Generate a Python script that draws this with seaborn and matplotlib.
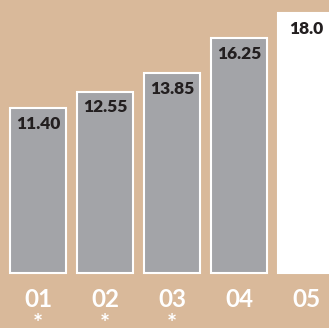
import matplotlib
matplotlib.use("Agg")
import matplotlib.pyplot as plt
import seaborn as sns
import pandas as pd

categories = ["01", "02", "03", "04", "05"]
values = [11.40, 12.55, 13.85, 16.25, 18.0]
value_labels = ["11.40", "12.55", "13.85", "16.25", "18.0"]
notes = ["*", "*", "*", "", ""]
bar_colors = ["#a3a4a8", "#a3a4a8", "#a3a4a8", "#a3a4a8", "#ffffff"]

sns.set_theme(style="white")
plt.rcParams["font.family"] = ["Lato", "DejaVu Sans"]

df = pd.DataFrame({"cat": categories, "val": values})

fig = plt.figure(figsize=(3.29, 3.28), dpi=100)
bg = "#d9b99a"
fig.patch.set_facecolor(bg)
ax = fig.add_axes([0, 0, 1, 1])
ax.set_facecolor(bg)

sns.barplot(data=df, x="cat", y="val", hue="cat", palette=bar_colors,
            legend=False, width=0.836, edgecolor="white", linewidth=1.5,
            saturation=1, ax=ax)

ax.set_xlim(-0.567, 4.343)
ax.set_ylim(-3.80, 18.88)
ax.axis("off")

for i, (v, lab) in enumerate(zip(values, value_labels)):
    ax.text(i, v - 0.55, lab, ha="center", va="top", fontsize=12.5,
            fontweight="heavy", color="#231f20")

for i, (c, n) in enumerate(zip(categories, notes)):
    ax.text(i, -1.8, c, ha="center", va="center", fontsize=17.5,
            fontweight="bold", color="white")
    if n:
        ax.text(i, -4.1, n, ha="center", va="baseline", fontsize=17,
                fontweight="bold", color="white", clip_on=False)

fig.savefig("out.png", dpi=100, facecolor=bg)
